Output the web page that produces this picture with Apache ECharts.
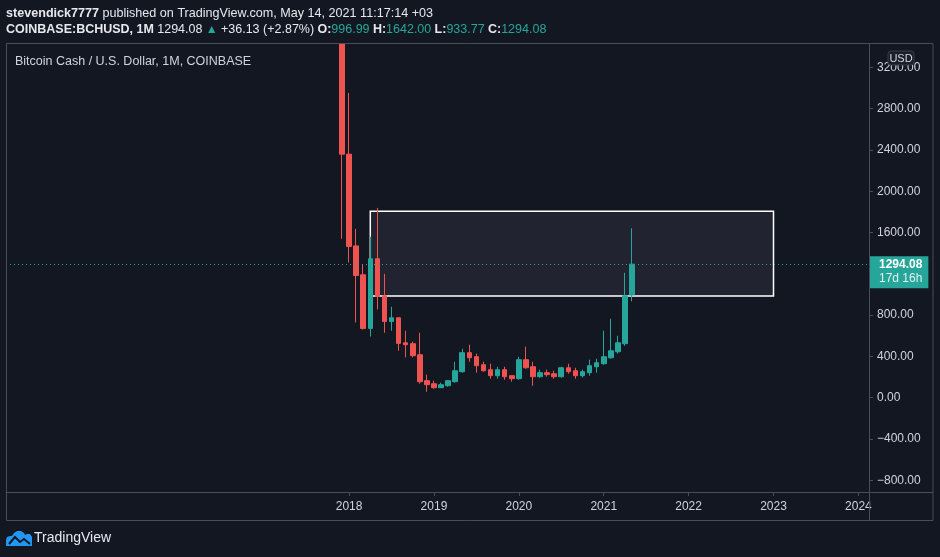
<!DOCTYPE html>
<html>
<head>
<meta charset="utf-8">
<script src="https://cdn.jsdelivr.net/npm/echarts@6/dist/echarts.min.js"></script>
<style>
html,body{margin:0;padding:0;background:#131722;}
#c{width:940px;height:557px;}
</style>
</head>
<body>
<div id="c"></div>
<script>
// ---- Data ----
var axisStart = [2014, 1];        // first month slot on the time axis
var axisMonthCount = 122;         // months shown on the time axis
var firstCandle = '2017-12';
// monthly candles: [open, close, low, high]
var ohlc = [
  [3650, 2360, 1540, 4300],
  [2360, 1465, 1310, 2953],
  [1471, 1184, 729, 1636],
  [1191, 671, 661, 1287],
  [671, 1346, 593, 1559],
  [1346, 981, 855, 1839],
  [987, 739, 629, 1200],
  [739, 774, 649, 881],
  [774, 526, 455, 780],
  [532, 513, 390, 649],
  [523, 407, 390, 542],
  [416, 155, 135, 629],
  [165, 126, 58, 223],
  [135, 97, 87, 165],
  [97, 126, 95, 145],
  [116, 165, 106, 170],
  [155, 261, 145, 348],
  [252, 436, 242, 474],
  [436, 387, 348, 513],
  [397, 310, 242, 426],
  [319, 261, 252, 348],
  [271, 213, 184, 329],
  [213, 271, 184, 300],
  [271, 203, 174, 300],
  [213, 184, 155, 213],
  [184, 368, 174, 397],
  [368, 290, 281, 494],
  [300, 203, 116, 348],
  [203, 242, 194, 271],
  [242, 223, 203, 271],
  [232, 203, 184, 261],
  [203, 290, 194, 300],
  [290, 252, 232, 329],
  [261, 213, 184, 290],
  [213, 252, 194, 271],
  [242, 310, 213, 368],
  [300, 339, 242, 378],
  [329, 397, 319, 649],
  [387, 455, 378, 765],
  [445, 532, 426, 600],
  [523, 987, 503, 1210],
  [996.99, 1294.08, 933.77, 1642.00]
];
var yearLabels = ['2018', '2019', '2020', '2021', '2022', '2023', '2024'];
var priceTicks = [-800, -400, 0, 400, 800, 1200, 1600, 2000, 2400, 2800, 3200];
var yRange = [-914, 3437];
var boxRange = { from: '2018-04', to: '2023-01', top: 1807, bottom: 985 };
var change = 36.13, changePct = 2.87;
var countdown = '17d 16h';

// ---- Build axis categories ----
var axisMonths = [];
(function(){
  var y = axisStart[0], m = axisStart[1];
  for (var i = 0; i < axisMonthCount; i++) {
    axisMonths.push(y + '-' + (m < 10 ? '0' + m : m));
    m++; if (m > 12) { m = 1; y++; }
  }
})();
var startIdx = axisMonths.indexOf(firstCandle);
var seriesData = axisMonths.map(function(){ return '-'; });
ohlc.forEach(function(d, i){ seriesData[startIdx + i] = d; });
var last = ohlc[ohlc.length - 1];

function isYearTick(idx, val) {
  return val.slice(5) === '01' && yearLabels.indexOf(val.slice(0, 4)) >= 0;
}

var BG = '#131722', TXT = '#d1d4dc', FRAME = '#4a4d58', UP = '#26a69a', DN = '#ef5350';
var FONT = '"Liberation Sans", Arial, sans-serif';

var chart = echarts.init(document.getElementById('c'));
chart.setOption({
  backgroundColor: BG,
  animation: false,
  grid: { left: 6, top: 43, right: 71, bottom: 65, containLabel: false },
  xAxis: {
    type: 'category',
    data: axisMonths,
    boundaryGap: true,
    axisLine: { show: true, onZero: false, lineStyle: { color: FRAME } },
    axisTick: { show: true, alignWithLabel: true, interval: isYearTick, length: 4, lineStyle: { color: FRAME } },
    axisLabel: { interval: isYearTick, formatter: function(v){ return v.slice(0, 4); },
      color: TXT, fontSize: 12, fontFamily: FONT, margin: 9 },
    splitLine: { show: false }
  },
  yAxis: {
    type: 'value',
    position: 'right',
    min: yRange[0], max: yRange[1],
    axisLine: { show: true, lineStyle: { color: FRAME } },
    axisTick: { show: true, length: 4, customValues: priceTicks, lineStyle: { color: FRAME } },
    axisLabel: { customValues: priceTicks, formatter: function(v){ return (v < 0 ? '\u2212' + Math.abs(v).toFixed(2) : v.toFixed(2)); },
      color: TXT, fontSize: 12, fontFamily: FONT, margin: 8 },
    splitLine: { show: false }
  },
  series: [{
    type: 'candlestick',
    data: seriesData,
    barWidth: '72%',
    clip: true,
    itemStyle: { color: UP, color0: DN, borderColor: UP, borderColor0: DN, borderWidth: 1 },
    markArea: {
      silent: true,
      itemStyle: { color: 'rgba(120,123,134,0.14)', borderColor: '#ffffff', borderWidth: 1.5 },
      data: [[{ xAxis: boxRange.from, yAxis: boxRange.top }, { xAxis: boxRange.to, yAxis: boxRange.bottom }]]
    },
    markLine: {
      silent: true,
      symbol: ['none', 'none'],
      lineStyle: { color: UP, type: [1, 3], width: 1 },
      label: {
        show: true, position: 'end', distance: 0,
        formatter: '{p|' + last[1].toFixed(2) + '}\n{t|' + countdown + '}',
        backgroundColor: UP, padding: [2, 6, 2, 10], align: 'left', verticalAlign: 'top', offset: [0, -8],
        rich: {
          p: { color: '#ffffff', fontSize: 12, fontWeight: 'bold', fontFamily: FONT, lineHeight: 14 },
          t: { color: '#dff3f0', fontSize: 12, fontFamily: FONT, lineHeight: 14 }
        }
      },
      data: [{ yAxis: last[1] }]
    }
  }],
  graphic: [
    // area above the plot: the clipped part of the first candle stays hidden like in the original
    { type: 'rect', shape: { x: 0, y: 0, width: 940, height: 43.5 }, style: { fill: BG }, z: 9, silent: true },
    { type: 'rect', shape: { x: 6.5, y: 43.5, width: 926.5, height: 477 }, style: { fill: 'none', stroke: FRAME, lineWidth: 1 }, z: 10, silent: true },
    { type: 'line', shape: { x1: 6.5, y1: 492.5, x2: 933, y2: 492.5 }, style: { stroke: FRAME, lineWidth: 1 }, z: 10, silent: true },
    { type: 'line', shape: { x1: 869.5, y1: 43.5, x2: 869.5, y2: 520.5 }, style: { stroke: FRAME, lineWidth: 1 }, z: 10, silent: true },
    { type: 'text', x: 6, y: 7, z: 20, style: {
        text: '{b|stevendick7777} {n|published on TradingView.com, May 14, 2021 11:17:14 +03}',
        rich: {
          b: { fill: '#e6e8ee', fontSize: 12.6, fontWeight: 'bold', fontFamily: FONT },
          n: { fill: '#e6e8ee', fontSize: 12.6, fontFamily: FONT }
        } } },
    { type: 'text', x: 6, y: 23.5, z: 20, style: {
        text: '{b|COINBASE:BCHUSD, 1M} {n|' + last[1].toFixed(2) + '}{g| \u25B2 }{n|+' + change.toFixed(2) + ' (+' + changePct.toFixed(2) + '%)} ' +
              '{b|O:}{v|' + last[0].toFixed(2) + '} {b|H:}{v|' + last[3].toFixed(2) + '} {b|L:}{v|' + last[2].toFixed(2) + '} {b|C:}{v|' + last[1].toFixed(2) + '}',
        rich: {
          b: { fill: '#e6e8ee', fontSize: 12.5, fontWeight: 'bold', fontFamily: FONT },
          n: { fill: '#e6e8ee', fontSize: 12.5, fontFamily: FONT },
          g: { fill: UP, fontSize: 12, fontFamily: FONT },
          v: { fill: UP, fontSize: 12.5, fontFamily: FONT }
        } } },
    { type: 'text', x: 15, y: 55, z: 20, style: { text: 'Bitcoin Cash / U.S. Dollar, 1M, COINBASE', fill: TXT, fontSize: 12.5, fontFamily: FONT } },
    { type: 'rect', x: 888, y: 51, z: 30, shape: { x: 0, y: 0, width: 26, height: 14, r: 3 }, style: { fill: '#1b1f2b', stroke: '#3a3e4a', lineWidth: 1 } },
    { type: 'text', x: 901, y: 58.5, z: 31, style: { text: 'USD', fill: TXT, fontSize: 11, fontFamily: FONT, align: 'center', verticalAlign: 'middle' } },
    { type: 'polygon', x: 6, y: 531, z: 30, shape: { points: [[0,15],[0,9],[1,6],[4,5],[6,5],[8,2],[11,0],[15,0],[18,2],[19,4],[21,3],[24,3],[26,6],[26,15]] }, style: { fill: '#2196f3' } },
    { type: 'polyline', x: 6, y: 531, z: 31, shape: { points: [[3, 13], [9, 6], [14, 11], [18, 8], [24, 13]] }, style: { stroke: '#131722', lineWidth: 2, fill: 'none' } },
    { type: 'text', x: 34, y: 531, z: 30, style: { text: 'TradingView', fill: '#e6e8ee', fontSize: 14, fontFamily: FONT } }
  ]
});
</script>
</body>
</html>
